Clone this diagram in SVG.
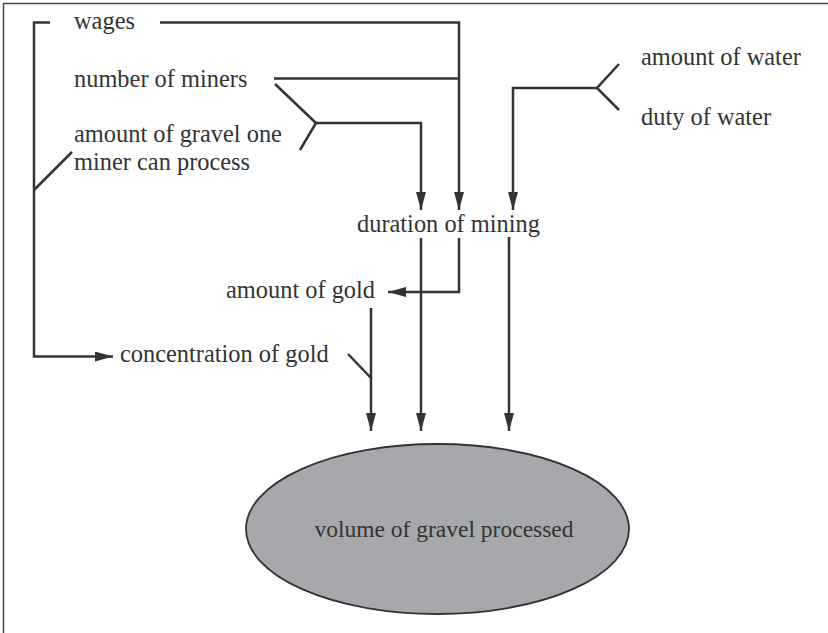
<svg xmlns="http://www.w3.org/2000/svg" width="828" height="633" viewBox="0 0 828 633">
<defs>
<style>
.t{font-family:"Liberation Serif","Times New Roman",serif;font-size:24.4px;fill:#333}
.e{font-size:23.5px}
.c{fill:none;stroke:#333;stroke-width:2.5}
.a{marker-end:url(#ah)}
</style>
<marker id="ah" markerUnits="userSpaceOnUse" markerWidth="18" markerHeight="10" refX="18" refY="5" orient="auto" viewBox="0 0 18 10">
<path d="M0,0 L18,5 L0,10 z" fill="#333"/>
</marker>
</defs>
<rect width="828" height="633" fill="#fff"/>
<path d="M3.5,633 V3.5 H828" fill="none" stroke="#444" stroke-width="1.5"/>
<g id="connectors">
<path class="c" d="M50,22.5 H34 V356.5 H113" marker-end="url(#ah)"/>
<path class="c" d="M34,190 L72,152"/>
<path class="c a" d="M160,22.5 H459 V210"/>
<path class="c" d="M274,78.5 H459"/>
<path class="c" d="M275,84 L316,123 L300,150"/>
<path class="c a" d="M316,123 H421 V210"/>
<path class="c" d="M619,64 L597,88 L619,110"/>
<path class="c a" d="M597,88 H513 V210"/>
<path class="c a" d="M421,238 V431"/>
<path class="c a" d="M459,238 V292 H388"/>
<path class="c a" d="M509,237 V431"/>
<path class="c a" d="M371,308 V431"/>
<path class="c" d="M348,354 L371,378"/>
</g>
<g id="wages"><text class="t" x="74" y="29">wages</text></g>
<g id="number-of-miners"><text class="t" x="74" y="87">number of miners</text></g>
<g id="amount-of-gravel"><text class="t" x="74" y="142">amount of gravel one</text><text class="t" x="74" y="170">miner can process</text></g>
<g id="amount-of-water"><text class="t" x="641" y="65">amount of water</text></g>
<g id="duty-of-water"><text class="t" x="641" y="125">duty of water</text></g>
<g id="duration-of-mining"><text class="t" x="357" y="232">duration of mining</text></g>
<g id="amount-of-gold"><text class="t" x="226" y="298">amount of gold</text></g>
<g id="concentration-of-gold"><text class="t" x="120" y="362">concentration of gold</text></g>
<g id="volume-of-gravel">
<ellipse cx="437.5" cy="529" rx="191.5" ry="85" fill="#a7a8ab" stroke="#333" stroke-width="1.8"/>
<text class="t e" x="444" y="537" text-anchor="middle">volume of gravel processed</text>
</g>
</svg>
